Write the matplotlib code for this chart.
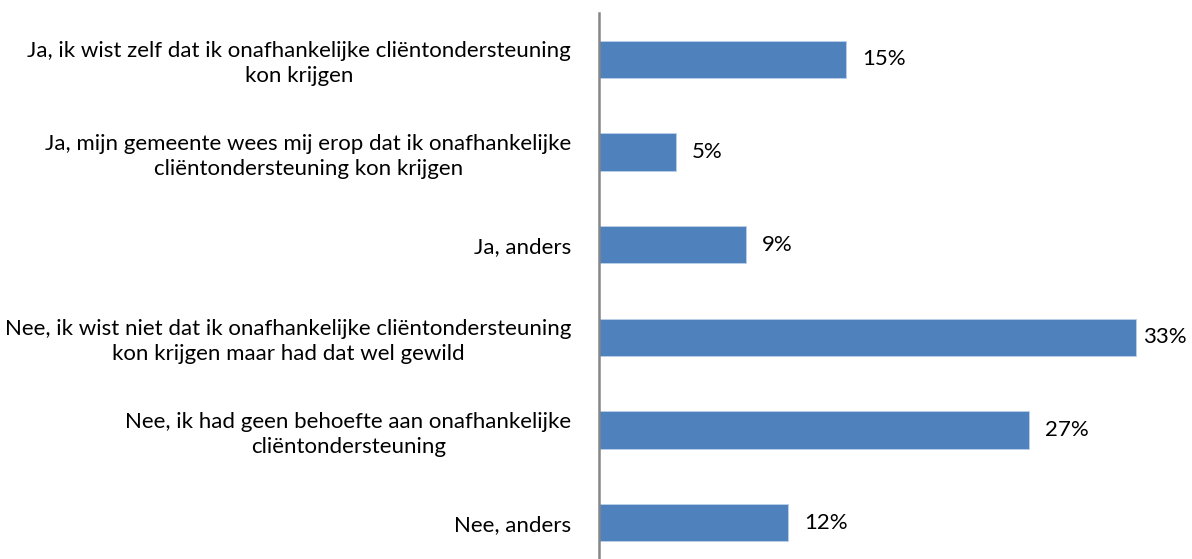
import matplotlib.pyplot as plt

categories = [
    "Ja, ik wist zelf dat ik onafhankelijke cliëntondersteuning\nkon krijgen",
    "Ja, mijn gemeente wees mij erop dat ik onafhankelijke\ncliëntondersteuning kon krijgen",
    "Ja, anders",
    "Nee, ik wist niet dat ik onafhankelijke cliëntondersteuning\nkon krijgen maar had dat wel gewild",
    "Nee, ik had geen behoefte aan onafhankelijke\ncliëntondersteuning",
    "Nee, anders",
]
# bar lengths, labels as printed
values = [15.2, 4.7, 9.0, 33.0, 26.4, 11.6]
value_labels = ["15%", "5%", "9%", "33%", "27%", "12%"]

plt.rcParams['font.family'] = ['Lato', 'DejaVu Sans']

fig = plt.figure(figsize=(11.92, 5.59), dpi=100)
ax = fig.add_axes([599 / 1192, -10 / 559, 586 / 1192, 556 / 559])

y = list(range(len(categories)))
ax.barh(y, values, height=0.4, color='#4F81BD', edgecolor='#BCD0EA', linewidth=0.6)
for yi, v, lab in zip(y, values, value_labels):
    # label is pulled closer to the bar when it would run off the edge
    off = 1.0 if v < 30 else 0.4
    ax.text(v + off, yi, lab, va='center', ha='left', fontsize=16, color='#000000')

ax.set_ylim(len(categories) - 0.5, -0.5)
ax.set_xlim(0, 36)
ax.set_yticks(y)
ax.set_yticklabels(categories, fontsize=16, multialignment='center', linespacing=1.3)
ax.tick_params(axis='y', length=0, pad=20)
ax.set_xticks([])
for s in ['top', 'right', 'bottom']:
    ax.spines[s].set_visible(False)
ax.spines['left'].set_color('#868686')
ax.spines['left'].set_linewidth(1.8)

fig.savefig('out.png', dpi=100)
